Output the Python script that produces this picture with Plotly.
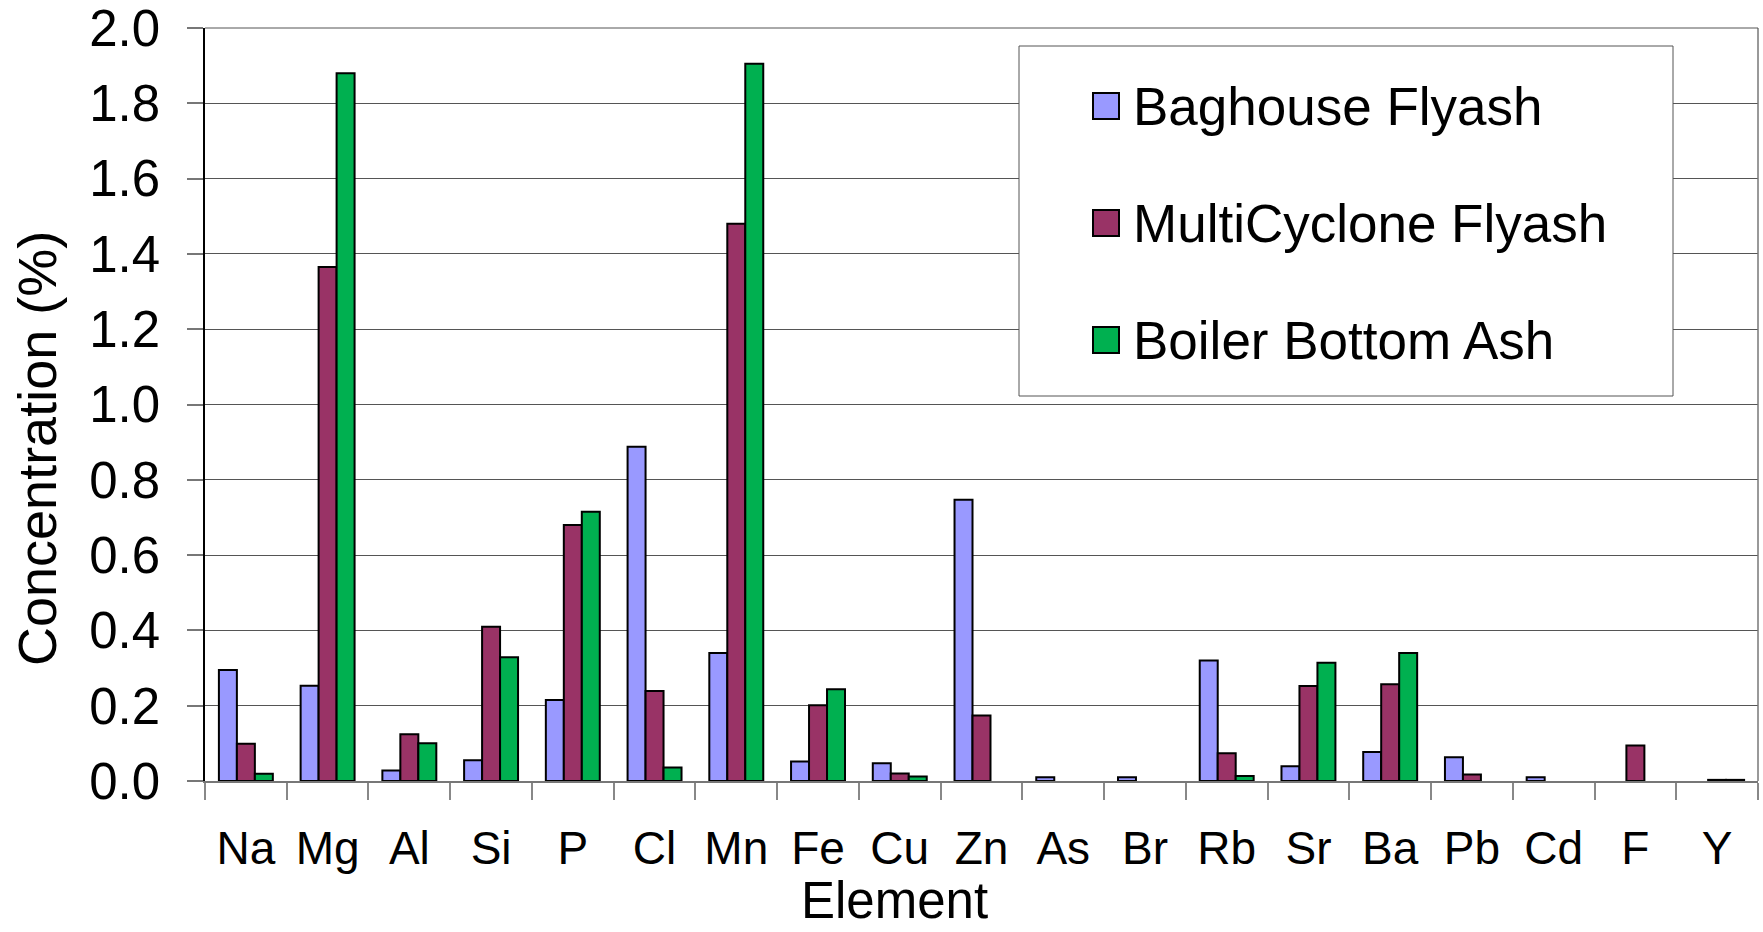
import plotly.graph_objects as go

elements = ["Na", "Mg", "Al", "Si", "P", "Cl", "Mn", "Fe", "Cu", "Zn",
            "As", "Br", "Rb", "Sr", "Ba", "Pb", "Cd", "F", "Y"]
series_names = ["Baghouse Flyash", "MultiCyclone Flyash", "Boiler Bottom Ash"]
baghouse = [0.295, 0.253, 0.028, 0.055, 0.215, 0.888, 0.340, 0.052, 0.047, 0.747,
            0.010, 0.010, 0.320, 0.039, 0.077, 0.063, 0.010, None, None]
multicyclone = [0.099, 1.365, 0.124, 0.410, 0.680, 0.239, 1.480, 0.201, 0.020, 0.174,
                None, None, 0.074, 0.252, 0.257, 0.017, None, 0.094, 0.003]
bottom_ash = [0.019, 1.880, 0.100, 0.329, 0.715, 0.036, 1.905, 0.244, 0.012, None,
              None, None, 0.013, 0.314, 0.340, None, None, None, 0.003]
colors = ["#9999FF", "#993366", "#00B050"]
y_ticks = [0.0, 0.2, 0.4, 0.6, 0.8, 1.0, 1.2, 1.4, 1.6, 1.8, 2.0]
x_title = "Element"
y_title = "Concentration (%)"

FONT = "Liberation Sans, Arial, sans-serif"
W, H = 1763, 932
L, R, T, B = 205, 5, 28, 151
PW, PH = W - L - R, H - T - B

def px_x(x):
    return (x - L) / PW

def px_y(y):
    return (H - B - y) / PH

fig = go.Figure()
for name, vals, col in zip(series_names, [baghouse, multicyclone, bottom_ash], colors):
    fig.add_trace(go.Bar(x=elements, y=vals, name=name,
                         marker=dict(color=col, line=dict(color="black", width=2)),
                         showlegend=False))

# custom legend (large symbols, as in the reference)
shapes = [
    dict(type="rect", xref="paper", yref="paper",
         x0=px_x(1019), x1=px_x(1673), y0=px_y(396), y1=px_y(46),
         line=dict(color="#555555", width=1), fillcolor="white", layer="above"),
    dict(type="line", xref="paper", yref="paper", x0=1, x1=1, y0=0, y1=1,
         line=dict(color="#777777", width=1.5)),
    dict(type="line", xref="paper", yref="paper", x0=0, x1=1, y0=1, y1=1,
         line=dict(color="#555555", width=1)),
]
annotations = []
row_y = [106, 223, 340]
for name, col, ry in zip(series_names, colors, row_y):
    shapes.append(dict(type="rect", xref="paper", yref="paper",
                       x0=px_x(1093), x1=px_x(1119), y0=px_y(ry + 13), y1=px_y(ry - 13),
                       fillcolor=col, line=dict(color="black", width=2), layer="above"))
    annotations.append(dict(xref="paper", yref="paper", x=px_x(1131), y=px_y(ry),
                            xanchor="left", yanchor="middle", showarrow=False,
                            text=name, font=dict(family=FONT, size=53, color="black")))

# axis titles placed as in the reference
annotations.append(dict(xref="paper", yref="paper", x=px_x(894), y=px_y(931),
                        xanchor="center", yanchor="bottom", showarrow=False,
                        text=x_title, font=dict(family=FONT, size=51, color="black")))
annotations.append(dict(xref="paper", yref="paper", x=px_x(37), y=px_y(449),
                        xanchor="center", yanchor="middle", showarrow=False, textangle=-90,
                        text=y_title, font=dict(family=FONT, size=54, color="black")))

fig.update_layout(
    width=W, height=H,
    margin=dict(l=L, r=R, t=T, b=B, pad=0, autoexpand=False),
    paper_bgcolor="white", plot_bgcolor="white",
    barmode="group", bargap=0.34, bargroupgap=0,
    font=dict(family=FONT, color="black"),
    shapes=shapes, annotations=annotations,
    xaxis=dict(
        type="category", categoryorder="array", categoryarray=elements,
        tickson="boundaries", ticks="outside", ticklen=17, tickcolor="#888888", tickwidth=1.5,
        showline=True, linecolor="#777777", linewidth=2,
        showgrid=False, tickfont=dict(size=46, family=FONT),
        ticklabelstandoff=26, automargin=False,
    ),
    yaxis=dict(
        range=[0, 2.0], tickvals=y_ticks, ticktext=[f"{v:.1f}" for v in y_ticks],
        ticks="outside", ticklen=16, tickcolor="#777777", tickwidth=1.5,
        showline=True, linecolor="black", linewidth=1.5,
        showgrid=True, gridcolor="#555555", gridwidth=1, zeroline=False,
        tickfont=dict(size=51, family=FONT), ticklabelstandoff=17, automargin=False,
        ticklabeloverflow="allow",
    ),
)
fig.write_html("out.html")
